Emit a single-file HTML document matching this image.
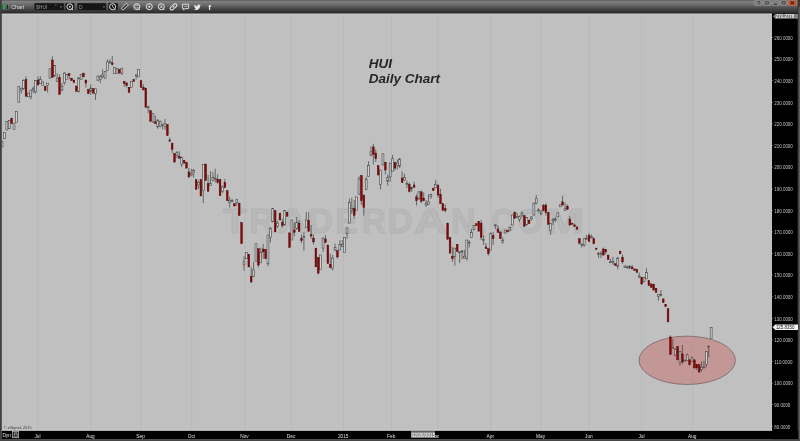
<!DOCTYPE html>
<html><head><meta charset="utf-8"><title>HUI Daily Chart</title>
<style>
html,body{margin:0;padding:0;background:#c0c0c0;overflow:hidden}
body{width:800px;height:441px;position:relative;font-family:"Liberation Sans",sans-serif}
svg{position:absolute;left:0;top:0;display:block}
text{font-family:"Liberation Sans",sans-serif;filter:grayscale(1)}
</style></head><body>
<svg width="800" height="441" viewBox="0 0 800 441">
<defs>
<linearGradient id="tb" x1="0" y1="0" x2="0" y2="1">
<stop offset="0" stop-color="#4c4c4c"/><stop offset="0.08" stop-color="#828282"/><stop offset="0.35" stop-color="#6b6b6b"/><stop offset="0.6" stop-color="#4c4c4c"/><stop offset="0.85" stop-color="#343434"/><stop offset="0.93" stop-color="#2a2a2a"/><stop offset="1" stop-color="#2a2a2a"/>
</linearGradient>
</defs>
<rect x="0" y="0" width="800" height="441" fill="#c0c0c0"/>
<g stroke="#afafaf" stroke-width="1" stroke-dasharray="1.2 1.3" fill="none"><line x1="37.8" y1="14" x2="37.8" y2="430"/><line x1="90.8" y1="14" x2="90.8" y2="430"/><line x1="140.9" y1="14" x2="140.9" y2="430"/><line x1="191.8" y1="14" x2="191.8" y2="430"/><line x1="244.8" y1="14" x2="244.8" y2="430"/><line x1="291.4" y1="14" x2="291.4" y2="430"/><line x1="343.5" y1="14" x2="343.5" y2="430"/><line x1="391.5" y1="14" x2="391.5" y2="430"/><line x1="437.7" y1="14" x2="437.7" y2="430"/><line x1="490.6" y1="14" x2="490.6" y2="430"/><line x1="540.9" y1="14" x2="540.9" y2="430"/><line x1="589.2" y1="14" x2="589.2" y2="430"/><line x1="641.8" y1="14" x2="641.8" y2="430"/><line x1="692.6" y1="14" x2="692.6" y2="430"/></g>
<g font-size="35" font-weight="bold" fill="#b8b8b8" stroke="#b3b3b3" stroke-width="0.9" stroke-linejoin="round"><text x="223" y="233" textLength="24" lengthAdjust="spacingAndGlyphs">T</text><text x="249.4" y="233" textLength="25" lengthAdjust="spacingAndGlyphs">R</text><text x="277.5" y="233" textLength="30.5" lengthAdjust="spacingAndGlyphs">A</text><text x="308.75" y="233" textLength="24.25" lengthAdjust="spacingAndGlyphs">D</text><text x="335.6" y="233" textLength="22.4" lengthAdjust="spacingAndGlyphs">E</text><text x="362" y="233" textLength="24" lengthAdjust="spacingAndGlyphs">R</text><text x="387.5" y="233" textLength="25.5" lengthAdjust="spacingAndGlyphs">D</text><text x="413.75" y="233" textLength="33.75" lengthAdjust="spacingAndGlyphs">A</text><text x="451" y="233" textLength="24.5" lengthAdjust="spacingAndGlyphs">N</text><text x="480.5" y="233" textLength="6" lengthAdjust="spacingAndGlyphs">.</text><text x="491" y="233" textLength="24" lengthAdjust="spacingAndGlyphs">C</text><text x="517.5" y="233" textLength="25" lengthAdjust="spacingAndGlyphs">O</text><text x="545" y="233" textLength="39" lengthAdjust="spacingAndGlyphs">M</text></g>
<ellipse cx="687.2" cy="360.3" rx="48.2" ry="24.2" fill="#c29795" stroke="#4e3e3e" stroke-width="0.5"/>
<line x1="692.6" y1="336.5" x2="692.6" y2="384.5" stroke="#b58e8c" stroke-width="1" stroke-dasharray="1.2 1.3"/>
<path d="M21.22 87.5V93.75M23.62 79.38V90M26.01 76.25V96.25M30.8 90V99.38M33.2 86.25V93.12M35.59 80V93.75M37.99 76.25V85M40.39 76.25V83.75M47.57 83.12V92.5M52.36 56.25V77.5M57.15 73.12V81.88M59.55 74.38V94.38M61.95 83.12V91.25M64.34 71.88V85M69.13 73.75V79.38M85.9 80V87.5M90.69 84.38V95M95.48 88.75V100M100.27 75V83.12M102.67 69.38V78.12M107.46 59.38V70.62M109.86 59.38V63.75M112.25 56V65.62M121.84 68.12V75M124.23 81.25V86.88M126.63 82.88V87.5M136.21 74.38V79.38M143.4 84.38V90M148.19 105.62V113.12M152.98 113.12V123.12M155.37 115.62V123.75M157.77 119.38V128.75M160.16 120.62V127.25M162.56 123.75V129.38M164.96 119V130M169.75 137.5V142.25M172.14 143.12V153.12M174.54 153.5V163.12M176.93 151V158.12M179.33 151.25V158.75M181.72 156.88V166.88M188.91 168.12V178.12M191.31 168.75V176.25M193.7 169.38V177.5M198.49 180.62V188.75M203.29 164.38V203.12M208.08 175V191.25M210.47 171.25V185.62M212.87 171.88V181.25M215.26 168.75V182.5M217.66 174.38V183.75M222.45 185.62V193.12M224.85 178.75V188.12M229.64 196.88V207.5M232.03 198.75V202.5M234.43 203.12V206.25M236.82 199.38V206.25M244.01 256.25V270.6M251.2 266.9V283.1M253.59 261.9V276.9M258.38 248.75V267.5M260.78 247.5V263.1M263.18 243.75V258.75M267.97 235V266.25M270.36 226.9V242.5M277.55 220.6V228.1M282.34 218.75V227.5M294.32 222.5V236.25M296.71 216.9V229.4M299.11 220V231.9M301.5 234.4V243.1M303.9 232.5V250.6M306.3 211.9V227.5M308.69 211.9V231.9M311.09 225V238.75M313.48 234.4V244.4M318.27 257.5V274.4M323.06 237.5V251.9M325.46 235V243.1M330.25 253.75V268.1M332.65 255V270.6M335.04 243.75V251.25M337.44 250.6V258.75M339.83 240V250M342.23 240V246.9M347.02 227.75V238.75M349.42 198.75V223.1M351.81 197.5V213.75M354.21 200V218.75M359 176.25V194.25M361.39 175.5V205M363.79 195V215.6M366.19 177V190M368.58 161.25V176.25M370.98 146.25V156.25M373.37 143.75V164.4M375.77 149.4V161.9M380.56 170V189.4M385.35 162.25V174.4M387.75 174.4V185.6M390.14 163.1V181.9M392.54 155V171.25M394.93 162.25V170.6M397.33 159.4V169.4M399.72 158.75V168.1M402.12 171.25V183.1M404.51 173.75V180.6M406.91 180.6V188.1M409.31 182.5V192.5M411.7 186.9V191.9M414.1 181.9V187.5M416.49 194.38V205.62M418.89 191.25V200M421.28 190.62V203.12M423.68 192.5V201.25M426.08 200V206.88M428.47 194.38V205M430.87 193.75V198.75M435.66 180V188.12M438.05 183.75V197.5M440.45 188.75V203.75M445.24 204.38V212.5M452.43 246.88V261.88M454.82 248.12V265.62M457.22 244.38V251.88M459.61 251.25V263.12M462.01 250V259.38M464.4 250V258.75M466.8 240V260.62M469.2 240V247.5M471.59 228.75V237.5M473.99 225.25V230.25M481.17 220V240M483.57 235V245M485.96 243.12V248.75M488.36 248.75V255.62M493.15 231.88V245M495.55 224.38V228.75M497.94 225.62V232.5M502.73 237.5V243.75M509.92 226.88V231.25M514.71 211.25V218.75M517.11 212.5V218.12M519.5 215.62V221.88M521.9 211.25V217.5M531.48 216.25V220.62M533.88 202.5V215.62M536.27 195V204.38M538.67 208.12V212.5M541.06 210V215.62M543.46 203.75V211.25M545.85 203.12V215.62M550.65 223.5V235M553.04 218.12V225M555.44 217.5V221.88M562.62 195.62V205.62M565.02 202.5V210.62M567.41 204.38V209.38M569.81 216.25V225.62M574.6 223.75V226.88M579.39 238.75V244.38M581.79 243.12V247.5M584.18 238.12V246.88M586.58 235V240M588.98 233.12V241.88M591.37 234.38V238.75M593.77 237.5V244.38M598.56 251.88V258.12M600.95 251.25V258.12M603.35 247.5V255.62M605.74 249.38V254.38M610.54 258.75V263.12M612.93 256.88V265M617.72 256.88V269.38M620.12 250.62V254.38M622.51 254.38V263.75M624.91 265.62V267.75M627.3 265.62V268.75M629.7 265V268.75M632.1 265.12V268.88M639.28 272.62V278.25M641.68 277.62V285.12M644.07 277.62V282.62M646.47 268.25V278.88M658.45 294.5V300.75M660.84 290.12V296.38M670.43 335.33V354.51M672.82 339.06V348.65M675.22 348.12V356.11M680.01 351.32V365.7M682.4 344.92V364.1M684.8 359.84V361.44M687.19 353.45V360.91M689.59 359.84V365.7M691.99 356.64V361.97M694.38 359.84V368.9M696.78 364.64V369.97M701.57 361.44V371.56M703.96 360.91V368.15M706.36 351.32V367.3M708.75 345.99V357.18" stroke="#2a2a2a" stroke-width="0.6" fill="none"/>
<g fill="#cecece" stroke="#3a3a3a" stroke-width="0.55"><rect x="1.11" y="141.25" width="1.9" height="5.62"/><rect x="3.5" y="132.5" width="1.9" height="6.25"/><rect x="5.9" y="121.25" width="1.9" height="8.75"/><rect x="8.29" y="120.62" width="1.9" height="8.12"/><rect x="13.08" y="123.12" width="1.9" height="6.25"/><rect x="15.48" y="111.25" width="1.9" height="11.25"/><rect x="17.87" y="86.25" width="1.9" height="16.25"/><rect x="20.27" y="88.75" width="1.9" height="1.88"/><rect x="22.67" y="80.62" width="1.9" height="8.12"/><rect x="27.46" y="93.12" width="1.9" height="3.75"/><rect x="29.85" y="90" width="1.9" height="6.88"/><rect x="32.25" y="88.75" width="1.9" height="1.25"/><rect x="34.64" y="80.62" width="1.9" height="11.25"/><rect x="39.44" y="79.38" width="1.9" height="4.38"/><rect x="41.83" y="81.88" width="1.9" height="3.75"/><rect x="46.62" y="83.12" width="1.9" height="2.5"/><rect x="49.02" y="68.75" width="1.9" height="9.38"/><rect x="53.81" y="65.62" width="1.9" height="10.62"/><rect x="56.2" y="78.75" width="1.9" height="2.5"/><rect x="61" y="86.25" width="1.9" height="3.75"/><rect x="63.39" y="73.12" width="1.9" height="9.38"/><rect x="65.79" y="74.38" width="1.9" height="5"/><rect x="77.76" y="77.75" width="1.9" height="14.12"/><rect x="80.16" y="74.38" width="1.9" height="5"/><rect x="89.74" y="88.12" width="1.9" height="3.12"/><rect x="94.53" y="88.75" width="1.9" height="5"/><rect x="96.93" y="76" width="1.9" height="4.62"/><rect x="99.32" y="76.88" width="1.9" height="2.5"/><rect x="101.72" y="75" width="1.9" height="1.88"/><rect x="104.12" y="71.5" width="1.9" height="7"/><rect x="106.51" y="61.88" width="1.9" height="8.75"/><rect x="108.91" y="61.86" width="1.9" height="0.9"/><rect x="113.7" y="67.5" width="1.9" height="6.25"/><rect x="116.09" y="68.5" width="1.9" height="5"/><rect x="120.89" y="68.12" width="1.9" height="5"/><rect x="130.47" y="81.25" width="1.9" height="6.25"/><rect x="135.26" y="75" width="1.9" height="1"/><rect x="137.65" y="69.38" width="1.9" height="7.5"/><rect x="147.24" y="106.86" width="1.9" height="0.9"/><rect x="152.03" y="113.75" width="1.9" height="8.12"/><rect x="156.82" y="120" width="1.9" height="6.88"/><rect x="159.21" y="121.25" width="1.9" height="5"/><rect x="161.61" y="124.38" width="1.9" height="1.25"/><rect x="164.01" y="123.75" width="1.9" height="2.5"/><rect x="175.98" y="152.75" width="1.9" height="2.88"/><rect x="180.77" y="157.5" width="1.9" height="6.88"/><rect x="190.36" y="173.75" width="1.9" height="1.25"/><rect x="192.75" y="170" width="1.9" height="2.5"/><rect x="197.54" y="182.5" width="1.9" height="2.5"/><rect x="202.34" y="164.38" width="1.9" height="26.25"/><rect x="209.52" y="183.5" width="1.9" height="2.12"/><rect x="211.92" y="177.5" width="1.9" height="3.12"/><rect x="214.31" y="178.11" width="1.9" height="0.9"/><rect x="221.5" y="186.88" width="1.9" height="4.38"/><rect x="228.69" y="200.25" width="1.9" height="2"/><rect x="231.08" y="200.36" width="1.9" height="0.9"/><rect x="235.87" y="199.75" width="1.9" height="2.5"/><rect x="243.06" y="261.9" width="1.9" height="2.5"/><rect x="245.46" y="252.5" width="1.9" height="6.25"/><rect x="252.64" y="270" width="1.9" height="6.25"/><rect x="255.04" y="243.75" width="1.9" height="17.5"/><rect x="259.83" y="252.5" width="1.9" height="10"/><rect x="267.02" y="235" width="1.9" height="28.75"/><rect x="269.41" y="228.5" width="1.9" height="9"/><rect x="271.81" y="208.5" width="1.9" height="13.4"/><rect x="276.6" y="223.1" width="1.9" height="3.15"/><rect x="283.79" y="210.6" width="1.9" height="14.4"/><rect x="290.97" y="220" width="1.9" height="20"/><rect x="295.76" y="222.5" width="1.9" height="6.25"/><rect x="302.95" y="236.6" width="1.9" height="0.9"/><rect x="305.35" y="220" width="1.9" height="7.25"/><rect x="319.72" y="255" width="1.9" height="14.4"/><rect x="322.11" y="238.1" width="1.9" height="10"/><rect x="331.7" y="258.1" width="1.9" height="10"/><rect x="334.09" y="247.5" width="1.9" height="2.5"/><rect x="338.88" y="244.4" width="1.9" height="5.6"/><rect x="341.28" y="244.4" width="1.9" height="1.85"/><rect x="343.68" y="237.5" width="1.9" height="15"/><rect x="346.07" y="227.75" width="1.9" height="6"/><rect x="348.47" y="202.5" width="1.9" height="20.6"/><rect x="350.86" y="208.5" width="1.9" height="2.1"/><rect x="355.65" y="196.9" width="1.9" height="13.35"/><rect x="358.05" y="178.9" width="1.9" height="15.35"/><rect x="365.24" y="179.4" width="1.9" height="10"/><rect x="367.63" y="165.6" width="1.9" height="10.65"/><rect x="370.03" y="151.9" width="1.9" height="3.1"/><rect x="379.61" y="170" width="1.9" height="14.4"/><rect x="382" y="153.75" width="1.9" height="11.25"/><rect x="386.8" y="177.5" width="1.9" height="3.75"/><rect x="389.19" y="163.1" width="1.9" height="13.8"/><rect x="391.59" y="158.75" width="1.9" height="12.5"/><rect x="396.38" y="163.1" width="1.9" height="2.5"/><rect x="398.77" y="158.75" width="1.9" height="7.5"/><rect x="403.56" y="177.5" width="1.9" height="2.5"/><rect x="405.96" y="183.62" width="1.9" height="0.9"/><rect x="410.75" y="187.5" width="1.9" height="1.25"/><rect x="417.94" y="191.88" width="1.9" height="6.88"/><rect x="425.13" y="203.12" width="1.9" height="1.88"/><rect x="427.52" y="201.88" width="1.9" height="2.5"/><rect x="429.92" y="194.38" width="1.9" height="1.88"/><rect x="434.71" y="184.38" width="1.9" height="3.12"/><rect x="453.87" y="248.12" width="1.9" height="8.12"/><rect x="458.66" y="251.86" width="1.9" height="0.9"/><rect x="461.06" y="250.99" width="1.9" height="0.9"/><rect x="463.45" y="256.25" width="1.9" height="1.88"/><rect x="465.85" y="240" width="1.9" height="18.12"/><rect x="468.25" y="242.24" width="1.9" height="0.9"/><rect x="470.64" y="232.5" width="1.9" height="5"/><rect x="473.04" y="225.62" width="1.9" height="3.75"/><rect x="482.62" y="239.36" width="1.9" height="0.9"/><rect x="489.81" y="233.12" width="1.9" height="17.5"/><rect x="494.6" y="224.86" width="1.9" height="0.9"/><rect x="501.78" y="240" width="1.9" height="2.5"/><rect x="504.18" y="230" width="1.9" height="3.12"/><rect x="508.97" y="227.5" width="1.9" height="2.5"/><rect x="511.37" y="215" width="1.9" height="10"/><rect x="516.16" y="216.74" width="1.9" height="0.9"/><rect x="518.55" y="216.88" width="1.9" height="2.5"/><rect x="520.95" y="213.12" width="1.9" height="2.5"/><rect x="525.74" y="217.5" width="1.9" height="7.5"/><rect x="530.53" y="216.88" width="1.9" height="1.88"/><rect x="532.93" y="203.12" width="1.9" height="11.88"/><rect x="535.32" y="198.75" width="1.9" height="4.38"/><rect x="537.72" y="209.86" width="1.9" height="0.9"/><rect x="540.11" y="211.88" width="1.9" height="1.88"/><rect x="549.7" y="223.5" width="1.9" height="7.12"/><rect x="552.09" y="219.38" width="1.9" height="1.62"/><rect x="554.49" y="218.93" width="1.9" height="0.9"/><rect x="556.88" y="212.75" width="1.9" height="4.12"/><rect x="559.28" y="204.75" width="1.9" height="2.12"/><rect x="564.07" y="208.75" width="1.9" height="1.88"/><rect x="580.84" y="244.24" width="1.9" height="0.9"/><rect x="583.23" y="238.75" width="1.9" height="6.25"/><rect x="585.63" y="238.11" width="1.9" height="0.9"/><rect x="590.42" y="236.25" width="1.9" height="1.5"/><rect x="597.61" y="253.49" width="1.9" height="0.9"/><rect x="600" y="253.11" width="1.9" height="0.9"/><rect x="609.59" y="261.86" width="1.9" height="0.9"/><rect x="611.98" y="261.25" width="1.9" height="1.25"/><rect x="616.77" y="258.12" width="1.9" height="8.12"/><rect x="623.96" y="266" width="1.9" height="1.25"/><rect x="626.35" y="266.86" width="1.9" height="0.9"/><rect x="628.75" y="266.25" width="1.9" height="1.88"/><rect x="638.33" y="276" width="1.9" height="1"/><rect x="643.12" y="277.62" width="1.9" height="3.75"/><rect x="645.52" y="272.62" width="1.9" height="6.25"/><rect x="657.5" y="294.5" width="1.9" height="1.88"/><rect x="659.89" y="294.68" width="1.9" height="0.9"/><rect x="671.87" y="347.58" width="1.9" height="1.07"/><rect x="674.27" y="349.18" width="1.9" height="5.86"/><rect x="679.06" y="351.32" width="1.9" height="11.19"/><rect x="683.85" y="360.08" width="1.9" height="0.9"/><rect x="686.24" y="355.05" width="1.9" height="5.33"/><rect x="691.04" y="357.92" width="1.9" height="3.52"/><rect x="700.62" y="367.3" width="1.9" height="1.92"/><rect x="703.01" y="367.01" width="1.9" height="0.9"/><rect x="705.41" y="351.32" width="1.9" height="13.32"/><rect x="707.8" y="345.99" width="1.9" height="1.07"/><rect x="710.2" y="327.34" width="1.9" height="11.19"/></g>
<g fill="#8e0404" stroke="#4a0808" stroke-width="0.45"><rect x="10.79" y="118.12" width="1.7" height="5.62"/><rect x="25.16" y="79.38" width="1.7" height="16.88"/><rect x="37.14" y="80" width="1.7" height="5"/><rect x="44.33" y="86.25" width="1.7" height="4.38"/><rect x="51.51" y="60" width="1.7" height="17.5"/><rect x="58.7" y="77.5" width="1.7" height="16.88"/><rect x="68.28" y="73.75" width="1.7" height="1.88"/><rect x="70.68" y="78.12" width="1.7" height="2.5"/><rect x="73.07" y="80" width="1.7" height="2.75"/><rect x="75.47" y="86" width="1.7" height="5.25"/><rect x="82.66" y="73.12" width="1.7" height="3.75"/><rect x="85.05" y="80" width="1.7" height="3.12"/><rect x="87.45" y="89.38" width="1.7" height="4.38"/><rect x="92.24" y="88.75" width="1.7" height="4.38"/><rect x="111.4" y="62.88" width="1.7" height="1.5"/><rect x="118.59" y="69.38" width="1.7" height="3.75"/><rect x="123.38" y="81.25" width="1.7" height="2.25"/><rect x="125.78" y="82.88" width="1.7" height="2.75"/><rect x="128.17" y="87.25" width="1.7" height="5.25"/><rect x="132.96" y="79.75" width="1.7" height="1.75"/><rect x="140.15" y="80.62" width="1.7" height="6.88"/><rect x="142.55" y="87.5" width="1.7" height="2.5"/><rect x="144.94" y="88.12" width="1.7" height="19.38"/><rect x="149.73" y="110.62" width="1.7" height="10.62"/><rect x="154.52" y="121.88" width="1.7" height="1.62"/><rect x="166.5" y="124.38" width="1.7" height="11.25"/><rect x="168.9" y="140" width="1.7" height="1"/><rect x="171.29" y="143.12" width="1.7" height="6.25"/><rect x="173.69" y="153.5" width="1.7" height="8.38"/><rect x="178.48" y="156.25" width="1.7" height="1.88"/><rect x="183.27" y="160.25" width="1.7" height="2.88"/><rect x="185.67" y="162.25" width="1.7" height="5.88"/><rect x="188.06" y="171.88" width="1.7" height="5"/><rect x="195.25" y="179.75" width="1.7" height="9.62"/><rect x="200.04" y="179.75" width="1.7" height="16.25"/><rect x="204.83" y="164" width="1.7" height="16.62"/><rect x="207.23" y="183.75" width="1.7" height="7.5"/><rect x="216.81" y="179.38" width="1.7" height="3.12"/><rect x="219.2" y="179.38" width="1.7" height="16.25"/><rect x="224" y="182.5" width="1.7" height="5"/><rect x="226.39" y="190.62" width="1.7" height="10"/><rect x="233.58" y="203.75" width="1.7" height="2.25"/><rect x="238.37" y="203.12" width="1.7" height="12.5"/><rect x="240.76" y="222.5" width="1.7" height="21.25"/><rect x="247.95" y="254.4" width="1.7" height="12.5"/><rect x="250.35" y="276.25" width="1.7" height="5.65"/><rect x="257.53" y="248.75" width="1.7" height="16.25"/><rect x="262.33" y="249" width="1.7" height="2.9"/><rect x="264.72" y="249.4" width="1.7" height="9.35"/><rect x="274.3" y="210.6" width="1.7" height="21.3"/><rect x="279.09" y="213.1" width="1.7" height="6.9"/><rect x="281.49" y="222.25" width="1.7" height="3.35"/><rect x="286.28" y="212.1" width="1.7" height="4.15"/><rect x="288.68" y="232.9" width="1.7" height="14.6"/><rect x="293.47" y="230" width="1.7" height="2.25"/><rect x="298.26" y="223.1" width="1.7" height="8.15"/><rect x="300.65" y="238.75" width="1.7" height="1.85"/><rect x="307.84" y="220.6" width="1.7" height="10.65"/><rect x="310.24" y="234.75" width="1.7" height="1.25"/><rect x="312.63" y="238.1" width="1.7" height="3.8"/><rect x="315.03" y="248.1" width="1.7" height="18.8"/><rect x="317.42" y="257.5" width="1.7" height="15.6"/><rect x="324.61" y="239" width="1.7" height="3.25"/><rect x="327.01" y="245" width="1.7" height="18.75"/><rect x="329.4" y="264.4" width="1.7" height="3.1"/><rect x="336.59" y="250.6" width="1.7" height="6.3"/><rect x="353.36" y="208.1" width="1.7" height="7.5"/><rect x="360.54" y="175.5" width="1.7" height="25.1"/><rect x="362.94" y="195" width="1.7" height="12.5"/><rect x="372.52" y="146.9" width="1.7" height="7.5"/><rect x="374.92" y="153.1" width="1.7" height="5.65"/><rect x="377.31" y="165.6" width="1.7" height="9.4"/><rect x="384.5" y="162.25" width="1.7" height="7.75"/><rect x="394.08" y="162.25" width="1.7" height="5.85"/><rect x="401.27" y="178.1" width="1.7" height="4.4"/><rect x="408.46" y="184.4" width="1.7" height="6.85"/><rect x="413.25" y="185" width="1.7" height="2.25"/><rect x="415.64" y="196.88" width="1.7" height="3.75"/><rect x="420.43" y="191.88" width="1.7" height="9.38"/><rect x="422.83" y="198.12" width="1.7" height="2.5"/><rect x="432.41" y="188.12" width="1.7" height="2.5"/><rect x="437.2" y="185.62" width="1.7" height="9.38"/><rect x="439.6" y="194.38" width="1.7" height="9.38"/><rect x="441.99" y="203.75" width="1.7" height="6.88"/><rect x="444.39" y="208.5" width="1.7" height="2.12"/><rect x="446.79" y="223.12" width="1.7" height="16.25"/><rect x="449.18" y="237.5" width="1.7" height="15.62"/><rect x="451.58" y="256.25" width="1.7" height="2.5"/><rect x="456.37" y="244.38" width="1.7" height="6.88"/><rect x="475.53" y="223.75" width="1.7" height="1.88"/><rect x="477.93" y="221.25" width="1.7" height="10"/><rect x="480.32" y="223.12" width="1.7" height="14.38"/><rect x="485.11" y="246.88" width="1.7" height="1.62"/><rect x="487.51" y="248.75" width="1.7" height="5"/><rect x="492.3" y="235.62" width="1.7" height="3.12"/><rect x="497.09" y="229" width="1.7" height="3.5"/><rect x="499.49" y="231.88" width="1.7" height="6.88"/><rect x="506.68" y="230.25" width="1.7" height="1.62"/><rect x="513.86" y="212.5" width="1.7" height="5.62"/><rect x="523.44" y="215.62" width="1.7" height="10.62"/><rect x="528.24" y="220" width="1.7" height="3.75"/><rect x="542.61" y="205.62" width="1.7" height="5"/><rect x="545" y="205" width="1.7" height="7.5"/><rect x="547.4" y="212.25" width="1.7" height="12.12"/><rect x="561.77" y="201.88" width="1.7" height="3.12"/><rect x="566.56" y="206.25" width="1.7" height="3.12"/><rect x="568.96" y="219" width="1.7" height="6"/><rect x="571.36" y="223.12" width="1.7" height="1.25"/><rect x="573.75" y="225" width="1.7" height="1.25"/><rect x="576.15" y="226.88" width="1.7" height="2.5"/><rect x="578.54" y="238.75" width="1.7" height="4.38"/><rect x="588.13" y="235.62" width="1.7" height="5.62"/><rect x="592.92" y="238.75" width="1.7" height="5"/><rect x="595.31" y="248.12" width="1.7" height="1.25"/><rect x="602.5" y="249" width="1.7" height="6"/><rect x="604.89" y="249.38" width="1.7" height="2.5"/><rect x="607.29" y="255" width="1.7" height="4.75"/><rect x="614.48" y="263.75" width="1.7" height="1.88"/><rect x="619.27" y="251.25" width="1.7" height="2.5"/><rect x="621.66" y="257.25" width="1.7" height="4.62"/><rect x="631.25" y="267" width="1.7" height="1.88"/><rect x="633.64" y="268.88" width="1.7" height="1.62"/><rect x="636.04" y="269.25" width="1.7" height="3.38"/><rect x="640.83" y="277.62" width="1.7" height="6.25"/><rect x="648.01" y="280.75" width="1.7" height="5"/><rect x="650.41" y="283.88" width="1.7" height="3.75"/><rect x="652.81" y="284.25" width="1.7" height="5.88"/><rect x="655.2" y="288.25" width="1.7" height="4.38"/><rect x="662.39" y="298.88" width="1.7" height="3.75"/><rect x="664.78" y="304.5" width="1.7" height="2.25"/><rect x="667.18" y="308.75" width="1.7" height="13.15"/><rect x="669.58" y="336.93" width="1.7" height="17.58"/><rect x="676.76" y="346.52" width="1.7" height="13.32"/><rect x="681.55" y="353.98" width="1.7" height="7.99"/><rect x="688.74" y="359.84" width="1.7" height="4.8"/><rect x="693.53" y="359.84" width="1.7" height="7.99"/><rect x="695.93" y="364.64" width="1.7" height="3.2"/><rect x="698.32" y="364.64" width="1.7" height="7.46"/></g>
<g font-size="13.5" font-weight="bold" font-style="italic" fill="#262626"><text x="368.8" y="67.8">HUI</text><text x="368.8" y="82.7">Daily Chart</text></g>
<text x="3.8" y="428.6" font-size="3.9" fill="#3c3c3c">© eSignal, 2015</text>
<rect x="0" y="0" width="800" height="13.7" fill="url(#tb)"/>
<rect x="1.5" y="13.7" width="770.5" height="0.8" fill="#d0d0d0"/>
<rect x="0" y="0" width="1.8" height="441" fill="#404040"/>
<rect x="772" y="13.4" width="26" height="428" fill="#000"/>
<rect x="797.6" y="0" width="2.4" height="441" fill="#3a3a3a"/><rect x="798.8" y="7" width="1.2" height="434" fill="#5c5c5c"/>
<rect x="1.8" y="429.8" width="770.2" height="1" fill="#dadada"/>
<rect x="1.8" y="430.8" width="796.5" height="8.3" fill="#000"/>
<rect x="0" y="439.1" width="800" height="1.9" fill="#464646"/>
<g font-size="4.45" fill="#c4c4c4"><text x="774.3" y="428.6">80.0000</text><text x="774.3" y="407">90.0000</text><text x="774.3" y="385.4">100.0000</text><text x="774.3" y="363.8">110.0000</text><text x="774.3" y="342.2">120.0000</text><text x="774.3" y="320.6">130.0000</text><text x="774.3" y="299">140.0000</text><text x="774.3" y="277.4">150.0000</text><text x="774.3" y="255.8">160.0000</text><text x="774.3" y="234.2">170.0000</text><text x="774.3" y="212.6">180.0000</text><text x="774.3" y="191">190.0000</text><text x="774.3" y="169.4">200.0000</text><text x="774.3" y="147.8">210.0000</text><text x="774.3" y="126.2">220.0000</text><text x="774.3" y="104.6">230.0000</text><text x="774.3" y="83">240.0000</text><text x="774.3" y="61.4">250.0000</text><text x="774.3" y="39.8">260.0000</text></g>
<g stroke="#999" stroke-width="0.6"><line x1="772" y1="426.3" x2="773.2" y2="426.3"/><line x1="772" y1="404.7" x2="773.2" y2="404.7"/><line x1="772" y1="383.1" x2="773.2" y2="383.1"/><line x1="772" y1="361.5" x2="773.2" y2="361.5"/><line x1="772" y1="339.9" x2="773.2" y2="339.9"/><line x1="772" y1="318.3" x2="773.2" y2="318.3"/><line x1="772" y1="296.7" x2="773.2" y2="296.7"/><line x1="772" y1="275.1" x2="773.2" y2="275.1"/><line x1="772" y1="253.5" x2="773.2" y2="253.5"/><line x1="772" y1="231.9" x2="773.2" y2="231.9"/><line x1="772" y1="210.3" x2="773.2" y2="210.3"/><line x1="772" y1="188.7" x2="773.2" y2="188.7"/><line x1="772" y1="167.1" x2="773.2" y2="167.1"/><line x1="772" y1="145.5" x2="773.2" y2="145.5"/><line x1="772" y1="123.9" x2="773.2" y2="123.9"/><line x1="772" y1="102.3" x2="773.2" y2="102.3"/><line x1="772" y1="80.7" x2="773.2" y2="80.7"/><line x1="772" y1="59.1" x2="773.2" y2="59.1"/><line x1="772" y1="37.5" x2="773.2" y2="37.5"/></g>
<path d="M773 16.3L775.2 13.9H798V18.7H775.2Z" fill="#808080"/><text x="775.8" y="18.1" font-size="4.45" fill="#fff">271.2778</text>
<path d="M772.6 327.2L775.3 324.6H798V329.9H775.3Z" fill="#f4f4f4"/><text x="775.9" y="328.9" font-size="4.45" fill="#111">125.8350</text>
<g font-size="4.75" fill="#e0e0e0" text-anchor="middle"><text x="37.5" y="437.6">Jul</text><text x="90.5" y="437.6">Aug</text><text x="140.6" y="437.6">Sep</text><text x="191.5" y="437.6">Oct</text><text x="244.5" y="437.6">Nov</text><text x="291.1" y="437.6">Dec</text><text x="343.2" y="437.6">2015</text><text x="391.2" y="437.6">Feb</text><text x="435.1" y="437.6">Mar</text><text x="490.3" y="437.6">Apr</text><text x="540.6" y="437.6">May</text><text x="588.9" y="437.6">Jun</text><text x="641.5" y="437.6">Jul</text><text x="692.3" y="437.6">Aug</text></g>
<rect x="411" y="431.3" width="24" height="6.6" fill="#8a8a8a"/><text x="411.6" y="437.2" font-size="4.75" fill="#fff">02/20/2015</text>
<text x="2.4" y="436.8" font-size="4.75" fill="#e8e8e8">Dyn</text><rect x="12.6" y="431.5" width="6.1" height="6.3" fill="#222" stroke="#ddd" stroke-width="0.6"/><path d="M14.5 433.8V432.8H16.9V433.8M14.2 434H17.2V437H14.2Z" stroke="#ddd" stroke-width="0.5" fill="none"/>
<rect x="2.9" y="4.1" width="2.2" height="5.7" fill="#1fa650"/><rect x="6.5" y="4.4" width="1.7" height="5.4" fill="#222" stroke="#8a8a8a" stroke-width="0.4"/><text x="11.2" y="9" font-size="5.4" fill="#dcdcdc">Chart</text>
<rect x="34.2" y="3" width="30" height="7.7" rx="0.8" fill="#151515" stroke="#5e5e5e" stroke-width="0.5"/><text x="36" y="8.9" font-size="5" fill="#9a9a9a">$HUI</text><path d="M54.500 4.400h2.200l-0.600 1.600z" fill="#3c6ea0"/><rect x="60.500" y="6.300" width="1.100" height="1.100" fill="#ccc"/><rect x="65.200" y="3" width="9.400" height="7.700" rx="0.800" fill="#151515" stroke="#5e5e5e" stroke-width="0.5"/><circle cx="69.800" cy="6.700" r="2.900" fill="none" stroke="#e8e8e8" stroke-width="1"/><circle cx="69.900" cy="6.700" r="0.900" fill="#ececec"/><path d="M71.700 8.700l1.100 1.100" stroke="#ececec" stroke-width="1.100"/><rect x="77.100" y="3" width="29.200" height="7.700" rx="0.800" fill="#151515" stroke="#5e5e5e" stroke-width="0.5"/><text x="79" y="8.900" font-size="5" fill="#9a9aa2">D</text><rect x="103.400" y="6.300" width="1.100" height="1.100" fill="#ccc"/><rect x="108.100" y="3" width="9.900" height="7.700" rx="0.800" fill="#151515" stroke="#5e5e5e" stroke-width="0.5"/><circle cx="112.600" cy="6.700" r="3" fill="none" stroke="#e8e8e8" stroke-width="1"/><path d="M112.600 5V6.900L113.900 7.700" stroke="#ececec" stroke-width="0.700" fill="none"/><path d="M114.700 8.900l0.900 0.900" stroke="#ececec" stroke-width="1"/>
<g transform="rotate(-45 124.8 6.6)"><rect x="120.9" y="5.3" width="7.6" height="2.6" rx="0.9" fill="#3a3a3a" stroke="#e6e6e6" stroke-width="0.9"/></g><circle cx="136.8" cy="6.7" r="3" fill="none" stroke="#e6e6e6" stroke-width="1"/><path d="M135.3 6.5a1.6 1.6 0 0 1 3 -0.3M138.3 7a1.600 1.600 0 0 1 -3 0.300" stroke="#e6e6e6" stroke-width="0.7" fill="none"/><path d="M138.800 9l1 1" stroke="#e6e6e6" stroke-width="1"/><circle cx="149.3" cy="6.700" r="3" fill="none" stroke="#e6e6e6" stroke-width="1"/><circle cx="149.300" cy="6.700" r="1" fill="#e6e6e6"/><circle cx="161.3" cy="6.700" r="3" fill="none" stroke="#e6e6e6" stroke-width="1"/><path d="M160.200 8.100l1.100-2.800 1.100 2.800M160.600 7.300h1.400" stroke="#e6e6e6" stroke-width="0.600" fill="none"/><path d="M163.300 9l1 1" stroke="#e6e6e6" stroke-width="1"/><g transform="rotate(-40 173.500 6.900)"><rect x="169.600" y="5.300" width="7.800" height="3.200" rx="1.600" fill="none" stroke="#e6e6e6" stroke-width="1"/><path d="M172.400 6.900h2.200" stroke="#e6e6e6" stroke-width="1"/></g><path d="M182.400 4.200h6.200v4.400h-3.600l-1.400 1.300v-1.300h-1.200z" fill="none" stroke="#e6e6e6" stroke-width="0.900"/><path d="M184.600 6.400h2.600" stroke="#e6e6e6" stroke-width="0.700"/><path d="M200.9 5.1c-.3.1-.5.2-.8.2.3-.2.5-.4.6-.7-.3.2-.6.3-.9.3a1.4 1.4 0 0 0-2.4 1.3 4 4 0 0 1-2.9-1.5 1.4 1.4 0 0 0 .4 1.9c-.2 0-.4-.1-.6-.2 0 .7.5 1.3 1.1 1.4-.2.1-.4.1-.6 0 .2.6.7 1 1.3 1a2.8 2.8 0 0 1-2.1.6 4 4 0 0 0 6.100-3.500c.3-.2.5-.5.700-.800z" fill="#e6e6e6"/><text x="208.3" y="10.1" font-size="7.9" font-weight="bold" fill="#f0f0f0">f</text>
<rect x="754.7" y="0.4" width="7.7" height="5" rx="0.6" fill="#7e7e7e" stroke="#a8a8a8" stroke-width="0.4"/><rect x="763.6" y="0.4" width="7.1" height="5" rx="0.6" fill="#7e7e7e" stroke="#a8a8a8" stroke-width="0.4"/><rect x="771.9" y="0.4" width="7.1" height="5" rx="0.6" fill="#7e7e7e" stroke="#a8a8a8" stroke-width="0.4"/><rect x="780.1" y="0.4" width="7.1" height="5" rx="0.6" fill="#7e7e7e" stroke="#a8a8a8" stroke-width="0.4"/><rect x="788" y="0.4" width="8.600" height="5" rx="0.6" fill="#c4502c" stroke="#d8a090" stroke-width="0.4"/><text x="757.4" y="4.7" font-size="4.6" font-weight="bold" fill="#333">?</text><rect x="765.7" y="1.8" width="2.900" height="2.200" fill="none" stroke="#333" stroke-width="0.6"/><path d="M774 4.300h3" stroke="#222" stroke-width="0.9"/><rect x="782.2" y="1.600" width="2.900" height="2.400" fill="none" stroke="#333" stroke-width="0.6"/><path d="M790.600 1.300l3.400 3.200M794 1.300l-3.400 3.200" stroke="#1a1a1a" stroke-width="1"/>
</svg>
</body></html>
